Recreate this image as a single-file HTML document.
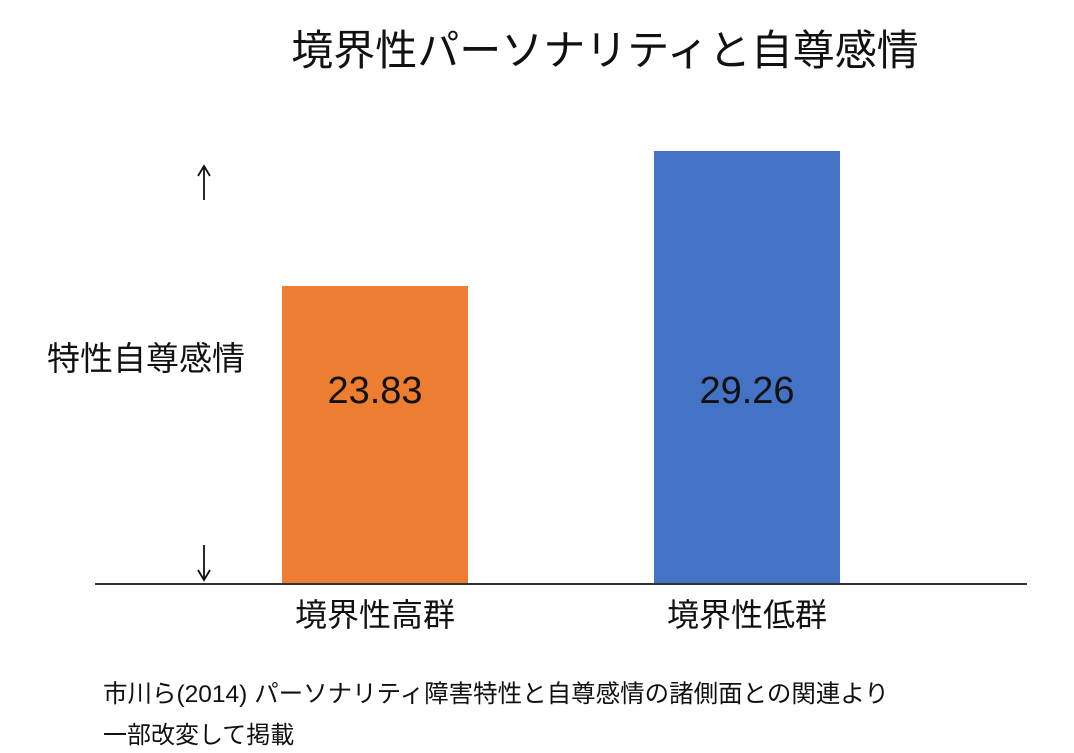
<!DOCTYPE html>
<html><head><meta charset="utf-8"><style>
body{margin:0;width:1074px;height:753px;background:#fff;position:relative;overflow:hidden;font-family:"Liberation Sans","Noto Sans CJK JP",sans-serif;color:#111}
.a{position:absolute;white-space:nowrap}
</style></head><body>
<div class="a" style="left:0;width:1210px;top:17px;text-align:center;font-size:42px">境界性パーソナリティと自尊感情</div>
<div class="a" style="left:282px;top:286px;width:186px;height:298px;background:#ED7D31"></div>
<div class="a" style="left:654px;top:151px;width:186px;height:433px;background:#4472C4"></div>
<div class="a" style="left:95px;top:583px;width:932px;height:1.5px;background:#333"></div>
<div class="a" style="left:282px;width:186px;text-align:center;top:370px;font-size:38px">23.83</div>
<div class="a" style="left:654px;width:186px;text-align:center;top:370px;font-size:38px">29.26</div>
<svg class="a" style="left:190px;top:160px" width="30" height="425">
<g stroke="#111" stroke-width="1.8" fill="none">
<line x1="14" y1="7" x2="14" y2="40"/><polyline points="8,16 14,6 20,16"/>
<line x1="14" y1="385" x2="14" y2="419"/><polyline points="8,410 14,420 20,410"/>
</g></svg>
<div class="a" style="left:47px;top:332px;font-size:33px">特性自尊感情</div>
<div class="a" style="left:282px;width:186px;text-align:center;top:590px;font-size:32px">境界性高群</div>
<div class="a" style="left:654px;width:186px;text-align:center;top:590px;font-size:32px">境界性低群</div>
<div class="a" style="left:103px;top:675px;font-size:24.5px">市川ら(2014) パーソナリティ障害特性と自尊感情の諸側面との関連より</div>
<div class="a" style="left:103px;top:715px;font-size:24px">一部改変して掲載</div>
</body></html>
